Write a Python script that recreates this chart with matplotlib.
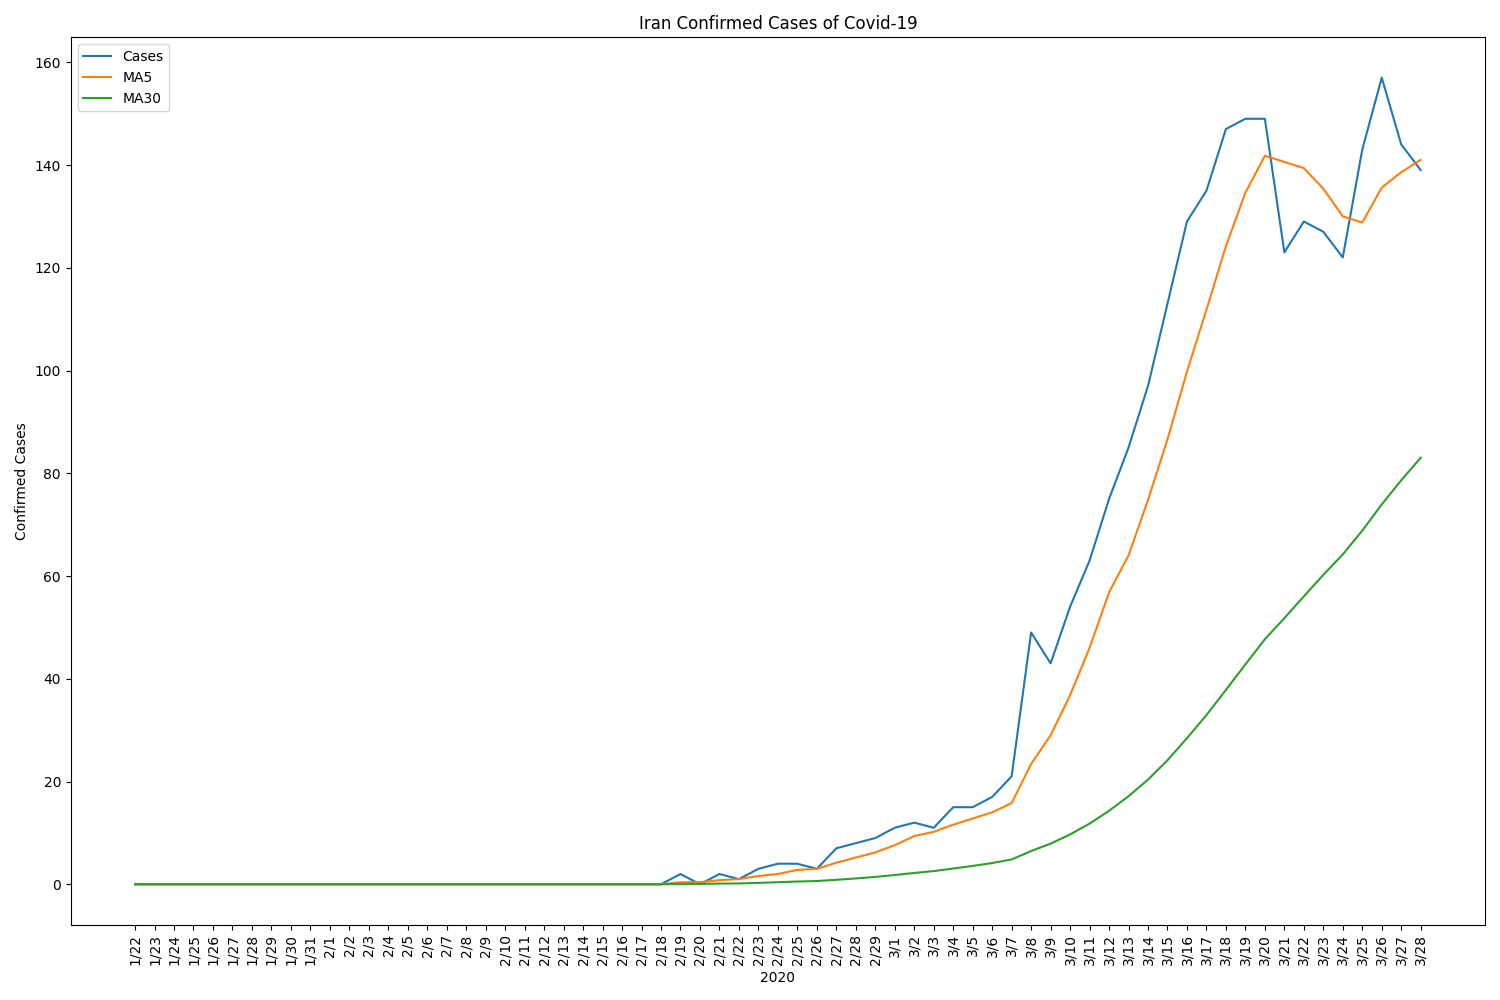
import matplotlib
matplotlib.use("Agg")
import matplotlib.pyplot as plt
import pandas as pd

dates = (["1/%d" % d for d in range(22, 32)] +
         ["2/%d" % d for d in range(1, 30)] +
         ["3/%d" % d for d in range(1, 29)])

cases = ([0] * 28 +          # 1/22 .. 2/18
         [2, 0, 2, 1, 3, 4, 4, 3, 7, 8, 9,          # 2/19 .. 2/29
          11, 12, 11, 15, 15, 17, 21, 49, 43, 54,   # 3/1 .. 3/10
          63, 75, 85, 97, 113, 129, 135, 147, 149, 149,  # 3/11 .. 3/20
          123, 129, 127, 122, 143, 157, 144, 139])  # 3/21 .. 3/28

s = pd.Series(cases, dtype=float)
ma5 = s.rolling(5, min_periods=1).mean()
ma30 = s.rolling(30, min_periods=1).mean()

fig, ax = plt.subplots(figsize=(15, 10), dpi=100)
ax.plot(dates, s, label="Cases")
ax.plot(dates, ma5, label="MA5")
ax.plot(dates, ma30, label="MA30")
ax.set_title("Iran Confirmed Cases of Covid-19")
ax.set_xlabel("2020")
ax.set_ylabel("Confirmed Cases")
ax.tick_params(axis="x", rotation=90)
ax.legend(loc="upper left")
fig.tight_layout()
fig.savefig("out.png")
